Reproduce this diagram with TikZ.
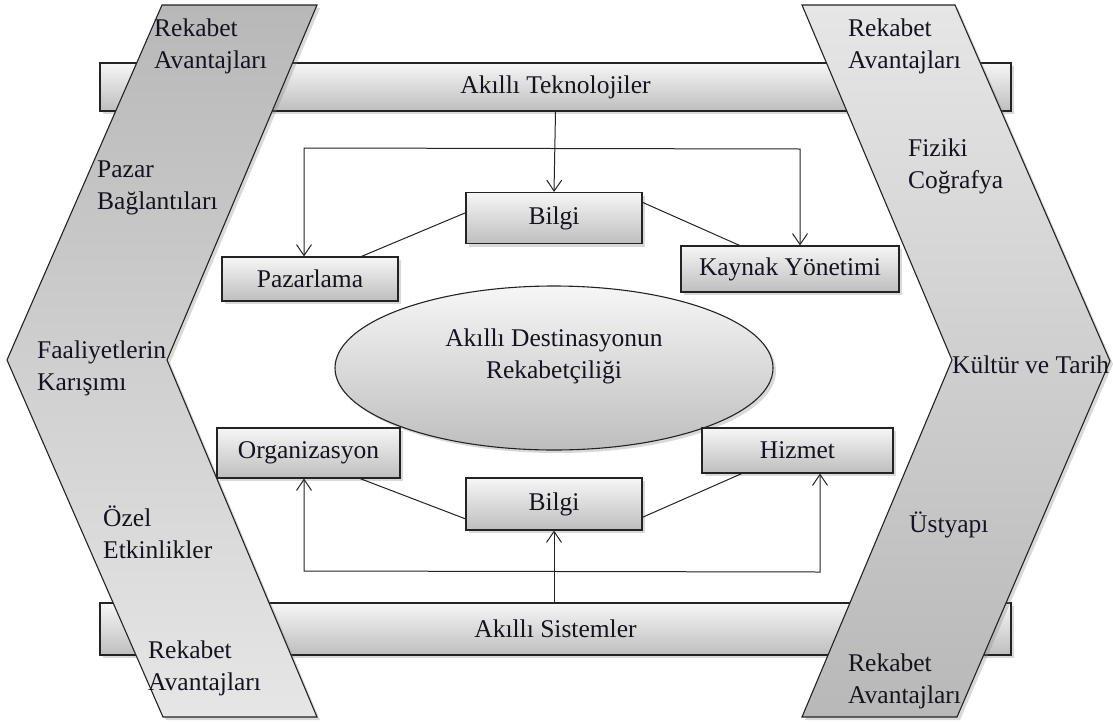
\documentclass[tikz,border=0pt]{standalone}
\usepackage{fontspec}
\setmainfont{Liberation Serif}
\newfontfamily\diagfont{Liberation Serif}
\usetikzlibrary{arrows.meta,shadows,shapes.geometric,calc}

\definecolor{chevdark}{RGB}{184,184,184}
\definecolor{chevmid}{RGB}{212,212,212}
\definecolor{chevlight}{RGB}{230,230,230}
\definecolor{boxtop}{RGB}{246,246,246}
\definecolor{boxbot}{RGB}{190,190,190}
\definecolor{edge}{RGB}{35,35,35}
\definecolor{ink}{RGB}{20,20,30}

\tikzset{
  softshadow/.style={drop shadow={shadow xshift=3pt,shadow yshift=-3pt,opacity=0.3}},
  bar/.style={draw=edge,line width=1.2pt,top color=boxtop,bottom color=boxbot,
    softshadow,inner sep=0pt,text=ink},
  card/.style={draw=edge,line width=1.1pt,top color=boxtop,bottom color=boxbot,
    softshadow,inner sep=0pt,text=ink},
  core/.style={ellipse,draw=edge,line width=1.1pt,top color=boxtop,bottom color=boxbot,
    softshadow,inner sep=0pt},
  chevleft/.style={draw=edge,line width=1.1pt,top color=chevdark,middle color=chevmid,
    bottom color=chevlight,softshadow},
  chevright/.style={draw=edge,line width=1.1pt,top color=chevlight,middle color=chevmid,
    bottom color=chevdark,softshadow},
  % base west of a two-line label sits on the baseline of its last line
  label/.style={anchor=base west,align=left,inner sep=0pt,text=ink},
  link/.style={draw=edge,line width=1pt},
  feed/.style={draw=edge,line width=1pt,-{Straight Barb[length=11pt,width=15pt]}},
  twoway/.style={draw=edge,line width=1pt,
    {Straight Barb[length=11pt,width=15pt]}-{Straight Barb[length=11pt,width=15pt]}},
}

\begin{document}
\begin{tikzpicture}[x=1pt,y=-1pt,font=\diagfont\fontsize{25.5}{31.5}\selectfont]
\useasboundingbox (0,0) rectangle (1113,723);

% horizontal bands
\node[bar,minimum width=911pt,minimum height=48pt] (tek) at (555.5,87) {Akıllı Teknolojiler};
\node[bar,minimum width=911pt,minimum height=52pt] (sis) at (555.5,629) {Akıllı Sistemler};

% side chevrons
\path[chevleft] (162,5) -- (317,5) -- (167,360) -- (317,717) -- (163,717) -- (7,360) -- cycle;
\path[chevright] (802,5) -- (955,5) -- (1110,361) -- (957,717) -- (802,717) -- (952,360) -- cycle;

% left chevron labels
\node[label] (l1) at (154,68) {Rekabet\\Avantajları};
\node[label] (l2) at (97,209) {Pazar\\Bağlantıları};
\node[label] (l3) at (37,390) {Faaliyetlerin\\Karışımı};
\node[label] (l4) at (103,558) {Özel\\Etkinlikler};
\node[label] (l5) at (148,690) {Rekabet\\Avantajları};

% right chevron labels
\node[label] (r1) at (848,68) {Rekabet\\Avantajları};
\node[label] (r2) at (908,188) {Fiziki\\Coğrafya};
\node[label] (r3) at (952,373) {Kültür ve Tarih};
\node[label] (r4) at (909,532) {Üstyapı};
\node[label] (r5) at (848,703) {Rekabet\\Avantajları};

% central ellipse
\node[core,minimum width=438pt,minimum height=164pt] (dest) at (554,368) {};
\node[label,anchor=base,align=center] (desttxt) at (554,378) {Akıllı Destinasyonun\\Rekabetçiliği};

% boxes
\node[card,minimum width=176pt,minimum height=51pt] (bilgiT) at (554,218) {Bilgi};
\node[card,minimum width=176pt,minimum height=44pt] (pazar) at (310,279) {Pazarlama};
\node[card,minimum width=218pt,minimum height=46pt] (kaynak) at (790,269) {Kaynak Yönetimi};
\node[card,minimum width=183pt,minimum height=50pt] (organ) at (308.5,453) {Organizasyon};
\node[card,minimum width=191pt,minimum height=45pt] (hizmet) at (797.5,450.5) {Hizmet};
\node[card,minimum width=176pt,minimum height=52pt] (bilgiB) at (554,504) {Bilgi};

% routing corners
\coordinate (tl) at (304,148);
\coordinate (tr) at (800,149);
\coordinate (bl) at (304,571);
\coordinate (br) at (820,572);

% upper connections
\draw[feed] (tek.south) -- (bilgiT.north);
\draw[twoway] (pazar.north -| tl) -- (tl) -- (tr) -- (kaynak.north -| tr);
\draw[link] ($(bilgiT.north west)!0.4!(bilgiT.south west)$) -- ($(pazar.north west)!0.79!(pazar.north east)$);
\draw[link] ($(bilgiT.north east)!0.2!(bilgiT.south east)$) -- ($(kaynak.north west)!0.27!(kaynak.north east)$);

% lower connections
\draw[feed] (sis.north -| bilgiB.south) -- (bilgiB.south);
\draw[twoway] (organ.south -| bl) -- (bl) -- (br) -- (hizmet.south -| br);
\draw[link] ($(organ.south west)!0.78!(organ.south east)$) -- ($(bilgiB.north west)!0.78!(bilgiB.south west)$);
\draw[link] ($(bilgiB.north east)!0.75!(bilgiB.south east)$) -- ($(hizmet.south west)!0.21!(hizmet.south east)$);
\end{tikzpicture}
\end{document}
